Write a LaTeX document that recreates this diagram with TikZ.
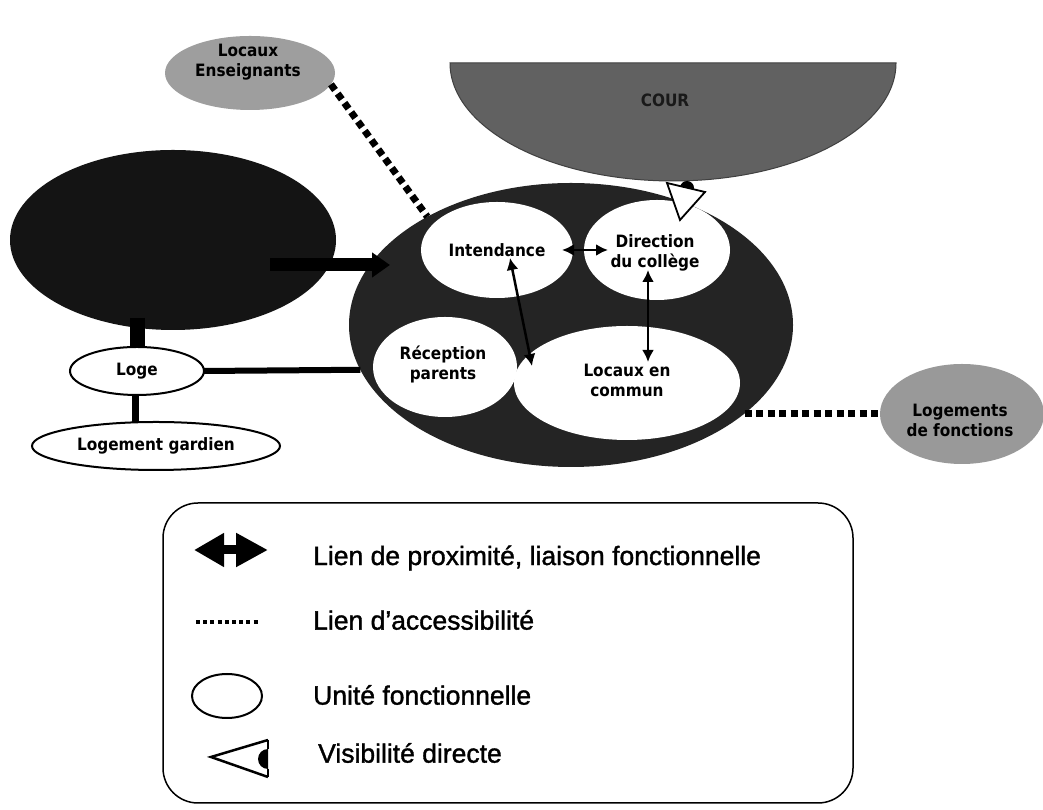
\documentclass[tikz,border=0pt]{standalone}
\usepackage{fontspec}
\setmainfont{Liberation Sans}
\newfontfamily\lblfont[FakeStretch=0.9]{DejaVu Sans}
\newfontfamily\legfont[FakeBold=1.3]{Liberation Sans}
\usetikzlibrary{arrows.meta,shapes.geometric,calc}
\begin{document}
\begin{tikzpicture}[x=1pt,y=1pt,
  blob/.style={ellipse, inner sep=0pt, outer sep=0pt},
  unitw/.style={blob, fill=white},
  unitb/.style={blob, fill=white, draw=black, line width=2pt},
  lbl/.style={font=\lblfont\bfseries\fontsize{17}{20}\selectfont, align=center, inner sep=0pt},
  legtext/.style={font=\legfont\fontsize{26.5}{30}\selectfont, anchor=west, inner sep=0pt},
  prox/.style={line width=2.5pt, {Latex[length=12pt,width=12pt]}-{Latex[length=12pt,width=12pt]}},
  access/.style={line width=7pt, dash pattern=on 7pt off 4.5pt},
]
\useasboundingbox (0,0) rectangle (1043,810);
\fill[white] (0,0) rectangle (1043,810);

% big black ellipse (left)
\node[blob, fill=black!92, minimum width=326pt, minimum height=180pt] (lb) at (173,570) {};

% COUR half ellipse
\fill[black!62, draw=black!75, line width=1pt] (450,747) arc[start angle=180, end angle=360, x radius=223pt, y radius=118pt] -- cycle;
\node[lbl, text=black!90] (cour) at (665,710) {COUR};

% gray ellipses
\node[blob, fill=black!38, minimum width=170pt, minimum height=74pt] (le) at (250,737) {};
\node[lbl] (letxt) at (248,748) {Locaux\\Enseignants};
\node[blob, fill=black!40, minimum width=164pt, minimum height=100pt] (lf) at (962,396) {};
\node[lbl] (lftxt) at (960,390) {Logements\\de fonctions};

% main ellipse
\node[blob, fill=black!86, minimum width=444pt, minimum height=284pt] (main) at (571,485) {};

% dotted access links
\draw[access] (le.-8) -- (main.143);
\draw[access] (main.-27) -- (main.-27 -| lf.west);

% inner functional units
\node[unitw, minimum width=152pt, minimum height=96pt] (int) at (497,560) {};
\node[unitw, minimum width=146pt, minimum height=100pt] (dir) at (657,560) {};
\node[unitw, minimum width=144pt, minimum height=100pt] (rec) at (445,443) {};
\node[unitw, minimum width=226pt, minimum height=114pt] (loc) at (627,427) {};

\node[lbl] (inttxt) at (497,560) {Intendance};
\node[lbl] (dirtxt) at (655,557) {Direction\\du collège};
\node[lbl] (rectxt) at (443,446) {Réception\\parents};
\node[lbl] (loctxt) at (627,430) {Locaux en\\commun};

% proximity links
\draw[prox] ([xshift=-11pt]int.east) -- ([xshift=24pt]dir.west);
\draw[prox] ($(int.center)+(13,-8)$) -- ($(loc.center)+(-95,17)$);
\draw[prox] ($(dir.center)+(-9,-20)$) -- ($(loc.center)+(21,21)$);

% visibility COUR -> Direction
\fill[black] (687,622) circle[radius=7pt];
\draw[fill=white, line width=1.8pt, line join=miter] (667,627) -- (705,618) -- (680,590) -- cycle;

% left side connections
\coordinate (barS) at (270,545);
\coordinate (barE) at (390,545);
\draw[line width=13pt, -{Triangle[length=18pt,width=24pt]}] (barS) -- (barE);

\node[unitb, minimum width=134pt, minimum height=48pt] (loge) at (137,439) {};
\node[lbl] (logetxt) at (137,439) {Loge};
\node[unitb, minimum width=248pt, minimum height=48pt] (lg) at (156,364) {};
\node[lbl] (lgtxt) at (156,364) {Logement gardien};

\draw[line width=15pt] ([yshift=12pt]lb.south -| loge.north) -- (loge.north);
\draw[line width=6pt] (loge.east) -- (main.192);
\draw[line width=7pt] ([xshift=-2pt]loge.south) -- ([xshift=-2pt]loge.south |- lg.north);

% legend
\node[draw, rounded corners=35pt, line width=1.5pt, minimum width=690pt, minimum height=300pt, inner sep=0pt] (leg) at (508,157) {};
\coordinate (l1a) at (194,260);
\coordinate (l1b) at (268,260);
\draw[line width=9pt, {Triangle[length=30pt,width=32pt]}-{Triangle[length=32pt,width=32pt]}] (l1a) -- (l1b);
\node[legtext] (t1) at (313,252) {Lien de proximité, liaison fonctionnelle};
\coordinate (l2a) at (196,188);
\coordinate (l2b) at (259,188);
\draw[line width=4pt, dash pattern=on 4pt off 3.2pt] (l2a) -- (l2b);
\node[legtext] (t2) at (313,190) {Lien d’accessibilité};
\node[unitb, minimum width=70pt, minimum height=44pt] (l3) at (227,114) {};
\node[legtext] (t3) at (313,115) {Unité fonctionnelle};
\fill[black] (268,61) arc[start angle=90, end angle=270, radius=10pt] -- cycle;
\draw[line width=2.5pt, line join=miter] (268,70) -- (211,53) -- (268,33);
\draw[line width=2pt] (268,70) -- (268,61);
\draw[line width=2pt] (268,41) -- (268,33);
\node[legtext] (t4) at (318,57) {Visibilité directe};
\end{tikzpicture}
\end{document}
